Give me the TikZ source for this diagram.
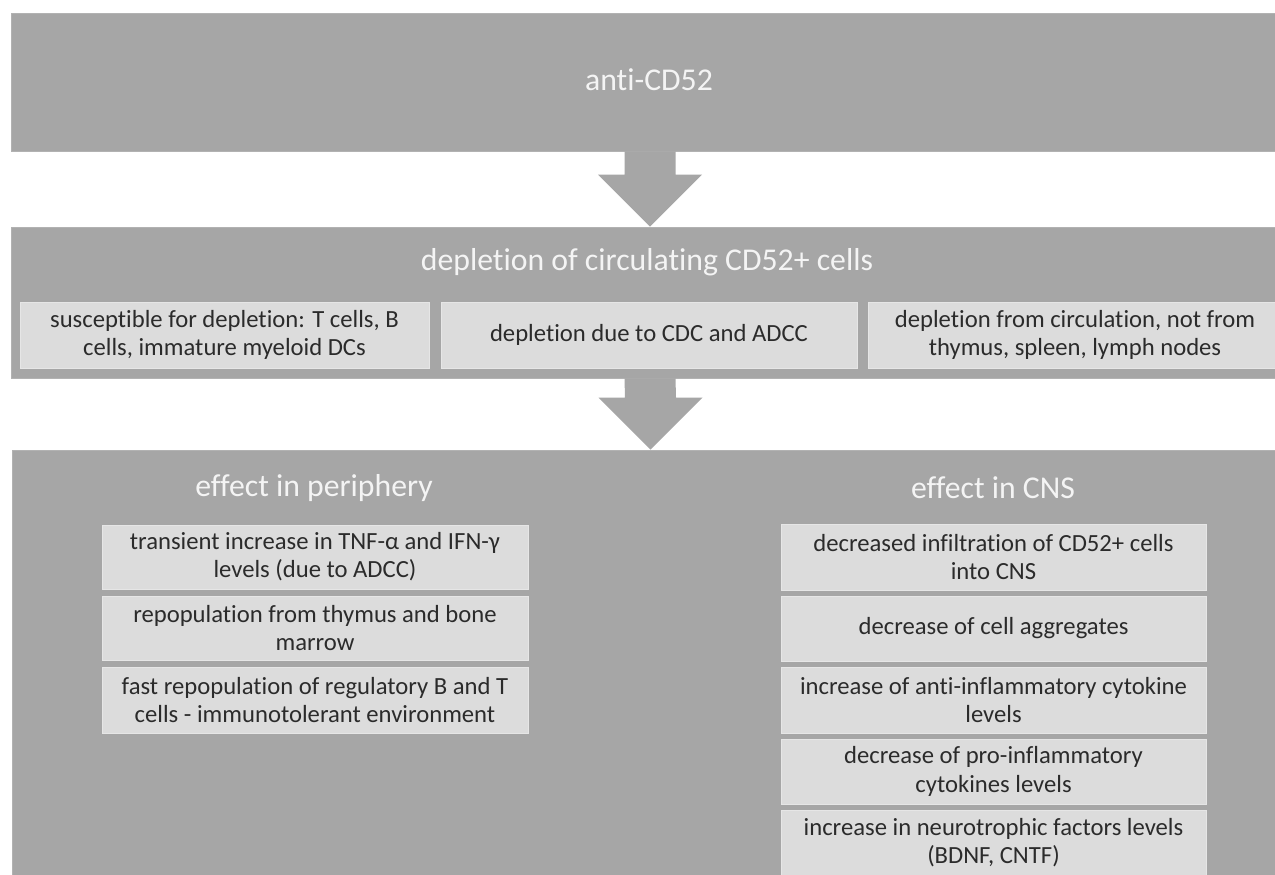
\documentclass[tikz,border=0pt]{standalone}
\usepackage{fontspec}
\setmainfont{Carlito}[Ligatures=NoCommon]
\usetikzlibrary{calc}
\definecolor{boxgray}{HTML}{A6A6A6}
\definecolor{boxedge}{HTML}{B2B2B2}
\definecolor{subgray}{HTML}{DCDCDC}
\definecolor{subedge}{HTML}{E6E6E6}
\definecolor{subtext}{HTML}{2B2B2B}
\definecolor{titletext}{HTML}{F4F4F4}
\begin{document}
\begin{tikzpicture}[x=0.75pt,y=-0.75pt,
  bigbox/.style={fill=boxgray, draw=boxedge, line width=0.6pt, inner sep=0pt},
  titletxt/.style={text=titletext, inner sep=0pt, font=\fontsize{23.8pt}{28pt}\selectfont},
  subbox/.style={fill=subgray, draw=subedge, line width=0.6pt, inner sep=0pt,
    align=center, text=subtext, font=\fontsize{18.5pt}{21.2pt}\selectfont},
  blockarrow/.style={fill=boxgray}]
\useasboundingbox (0,0) rectangle (1275,875);
\clip (0,0) rectangle (1275,875);
\fill[white] (0,0) rectangle (1275,875);

% big boxes
\node[bigbox, minimum width=958.5pt, minimum height=103.5pt] (top) at (650,82) {};
\node[bigbox, minimum width=958.5pt, minimum height=113.25pt] (dep) at (650,302.5) {};
\node[bigbox, minimum width=957.75pt, minimum height=337.5pt] (eff) at (650.5,675) {};

% titles
\node[titletxt] (ttop) at (649,80) {anti-CD52};
\node[titletxt] (tdep) at (647,262) {depletion of circulating CD52+ cells};
\node[titletxt] (tper) at (314,488) {effect in periphery};
\node[titletxt] (tcns) at (993,488) {effect in CNS};

% block arrows
\fill[blockarrow] ($(top.south)+(-25.5,0)$) -- ($(dep.north)+(-25.5,-52)$)
  -- ($(dep.north)+(-52,-52)$) -- (dep.north) -- ($(dep.north)+(52,-52)$)
  -- ($(dep.north)+(25.5,-52)$) -- ($(top.south)+(25.5,0)$) -- cycle;
\fill[blockarrow] ($(dep.south)+(-25.5,0)$) -- ($(eff.north)+(-25.5,-52)$)
  -- ($(eff.north)+(-52,-52)$) -- (eff.north) -- ($(eff.north)+(52,-52)$)
  -- ($(eff.north)+(25.5,-52)$) -- ($(dep.south)+(25.5,0)$) -- cycle;

% depletion sub-boxes
\node[subbox, minimum width=306.75pt, minimum height=49.5pt] (d1) at (224.5,335)
  {susceptible for depletion: T cells, B\\cells, immature myeloid DCs};
\node[subbox, minimum width=312pt, minimum height=49.5pt] (d2) at (649,335)
  {depletion due to CDC and ADCC};
\node[subbox, minimum width=310.5pt, minimum height=49.5pt] (d3) at (1075,335)
  {depletion from circulation, not from\\thymus, spleen, lymph nodes};

% periphery
\node[subbox, minimum width=319.5pt, minimum height=48pt] (p1) at (315,557)
  {transient increase in TNF-α and IFN-γ\\levels (due to ADCC)};
\node[subbox, minimum width=319.5pt, minimum height=48pt] (p2) at (315,628)
  {repopulation from thymus and bone\\marrow};
\node[subbox, minimum width=319.5pt, minimum height=49.5pt] (p3) at (315,700)
  {fast repopulation of regulatory B and T\\cells - immunotolerant environment};

% CNS
\node[subbox, minimum width=318.75pt, minimum height=49.5pt] (c1) at (993.5,557)
  {decreased infiltration of CD52+ cells\\into CNS};
\node[subbox, minimum width=318.75pt, minimum height=48.75pt] (c2) at (993.5,628.5)
  {decrease of cell aggregates};
\node[subbox, minimum width=318.75pt, minimum height=49.5pt] (c3) at (993.5,700)
  {increase of anti-inflammatory cytokine\\levels};
\node[subbox, minimum width=318.75pt, minimum height=48.75pt] (c4) at (993.5,771.5)
  {decrease of pro-inflammatory\\cytokines levels};
\node[subbox, minimum width=318.75pt, minimum height=48.75pt] (c5) at (993.5,842.5)
  {increase in neurotrophic factors levels\\(BDNF, CNTF)};
\end{tikzpicture}
\end{document}
